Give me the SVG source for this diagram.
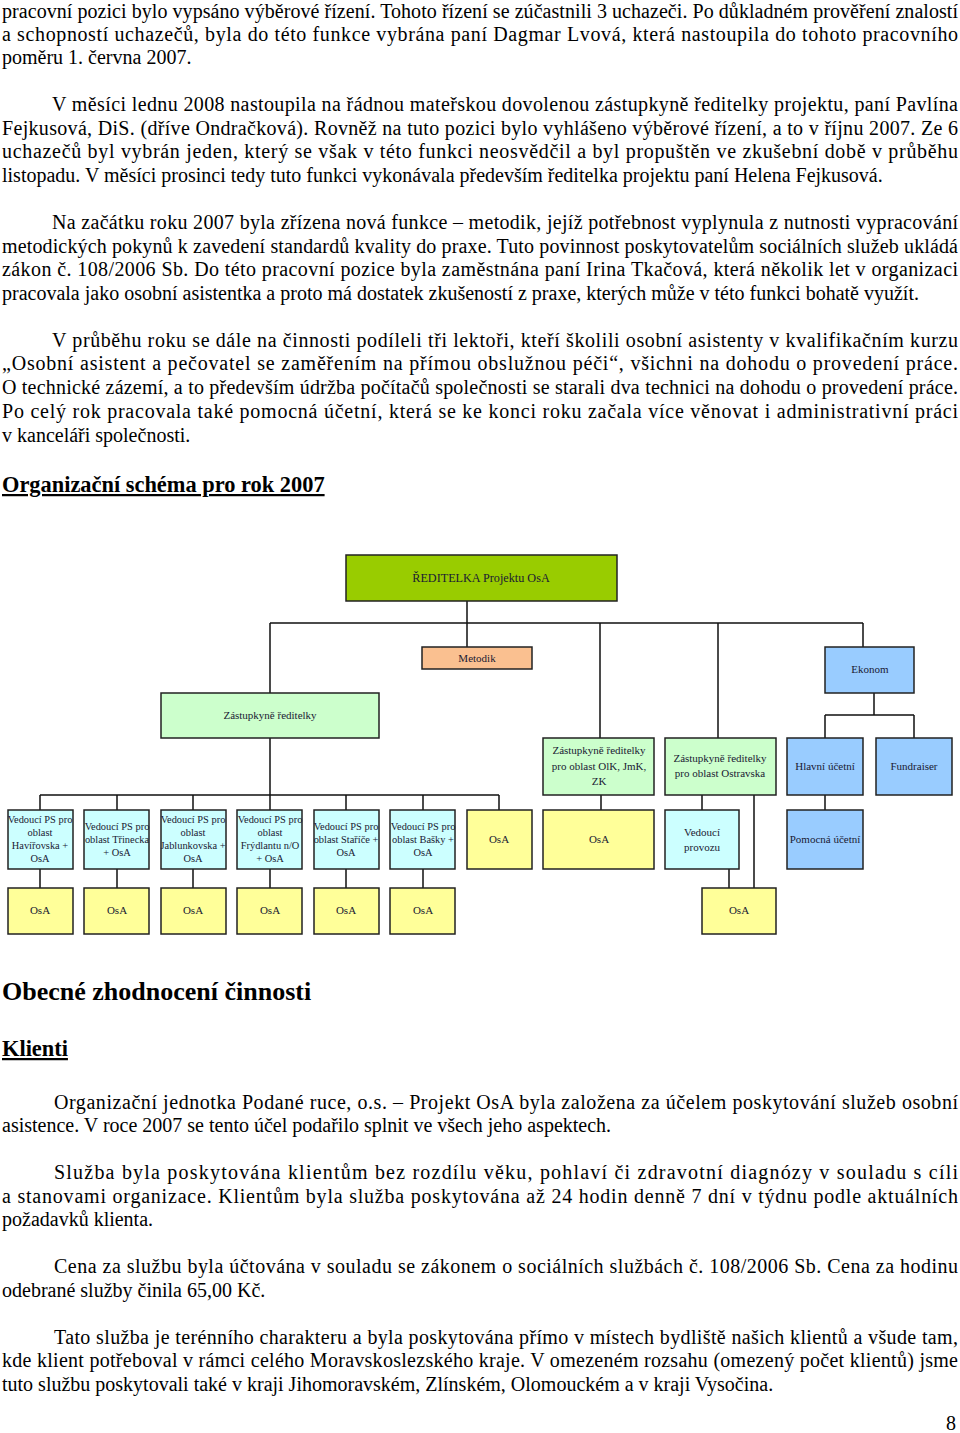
<svg xmlns="http://www.w3.org/2000/svg" width="960" height="1433" viewBox="0 0 960 1433">
<style>
.t{font-family:"Liberation Serif","Times New Roman",serif;font-size:20px;fill:#000}
.h{font-family:"Liberation Serif","Times New Roman",serif;font-weight:bold;font-size:22.4px;text-decoration:underline}
.c{font-family:"Liberation Serif","Times New Roman",serif;font-size:11px;fill:#1a1a33;text-anchor:middle}
.s{font-size:10.4px}
.b{stroke:#222;stroke-width:1.5}
.l{stroke:#111;stroke-width:1.5;fill:none}
.g1{fill:#99cc00}.or{fill:#fac090}.gr{fill:#ccffcc}.cy{fill:#ccffff}.ye{fill:#ffff99}.bl{fill:#99ccff}
</style>
<rect width="960" height="1433" fill="#fff"/>
<g class="t">
<text x="2" y="18" textLength="956" lengthAdjust="spacing">pracovní pozici bylo vypsáno výběrové řízení. Tohoto řízení se zúčastnili 3 uchazeči. Po důkladném prověření znalostí</text>
<text x="2" y="41" textLength="956" lengthAdjust="spacing">a schopností uchazečů, byla do této funkce vybrána paní Dagmar Lvová, která  nastoupila do tohoto pracovního</text>
<text x="2" y="64">poměru 1. června 2007.</text>
<text x="52" y="111" textLength="906" lengthAdjust="spacing">V měsíci lednu 2008 nastoupila na řádnou mateřskou dovolenou zástupkyně ředitelky projektu, paní Pavlína</text>
<text x="2" y="135" textLength="956" lengthAdjust="spacing">Fejkusová, DiS. (dříve Ondračková). Rovněž na tuto pozici bylo vyhlášeno výběrové řízení, a to v říjnu 2007. Ze 6</text>
<text x="2" y="158" textLength="956" lengthAdjust="spacing">uchazečů byl vybrán jeden, který se však v této funkci neosvědčil a byl propuštěn ve zkušební době v průběhu</text>
<text x="2" y="182">listopadu. V měsíci prosinci tedy tuto funkci vykonávala především ředitelka projektu paní Helena Fejkusová.</text>
<text x="52" y="229" textLength="906" lengthAdjust="spacing">Na začátku roku 2007 byla zřízena nová funkce – metodik, jejíž potřebnost vyplynula z nutnosti vypracování</text>
<text x="2" y="253" textLength="956" lengthAdjust="spacing">metodických pokynů k zavedení standardů kvality do praxe. Tuto povinnost poskytovatelům sociálních služeb ukládá</text>
<text x="2" y="276" textLength="956" lengthAdjust="spacing">zákon č. 108/2006 Sb. Do této pracovní pozice byla zaměstnána paní Irina Tkačová, která několik let v organizaci</text>
<text x="2" y="300">pracovala jako osobní asistentka a proto má dostatek zkušeností z praxe, kterých může v této funkci bohatě využít.</text>
<text x="52" y="347" textLength="906" lengthAdjust="spacing">V průběhu roku se dále na činnosti podíleli tři lektoři, kteří školili osobní asistenty v kvalifikačním kurzu</text>
<text x="2" y="370" textLength="956" lengthAdjust="spacing">„Osobní asistent a pečovatel se zaměřením na přímou obslužnou péči“, všichni na dohodu o provedení práce.</text>
<text x="2" y="394" textLength="956" lengthAdjust="spacing">O technické zázemí, a to především údržba počítačů společnosti se starali dva technici na dohodu o provedení práce.</text>
<text x="2" y="418" textLength="956" lengthAdjust="spacing">Po celý rok pracovala také pomocná účetní, která se ke konci roku začala více věnovat i administrativní práci</text>
<text x="2" y="442">v kanceláři společnosti.</text>
<text x="54" y="1109" textLength="904" lengthAdjust="spacing">Organizační jednotka Podané ruce, o.s. – Projekt OsA byla založena za účelem poskytování služeb osobní</text>
<text x="2" y="1132">asistence. V roce 2007 se tento účel podařilo splnit ve všech jeho aspektech.</text>
<text x="54" y="1179" textLength="904" lengthAdjust="spacing">Služba byla poskytována klientům bez rozdílu věku, pohlaví či zdravotní diagnózy v souladu s cíli</text>
<text x="2" y="1203" textLength="956" lengthAdjust="spacing">a stanovami organizace. Klientům byla služba poskytována až 24 hodin denně 7 dní v týdnu podle aktuálních</text>
<text x="2" y="1226">požadavků klienta.</text>
<text x="54" y="1273" textLength="904" lengthAdjust="spacing">Cena za službu byla účtována v souladu se zákonem o sociálních službách č. 108/2006 Sb. Cena za hodinu</text>
<text x="2" y="1297">odebrané služby činila 65,00 Kč.</text>
<text x="54" y="1344" textLength="904" lengthAdjust="spacing">Tato služba je terénního charakteru a byla poskytována  přímo v místech bydliště našich klientů a všude tam,</text>
<text x="2" y="1367" textLength="956" lengthAdjust="spacing">kde klient potřeboval v rámci celého Moravskoslezského kraje. V omezeném rozsahu (omezený počet klientů) jsme</text>
<text x="2" y="1391">tuto službu poskytovali také v kraji Jihomoravském, Zlínském, Olomouckém a v kraji Vysočina.</text>
<text x="946" y="1430">8</text>
</g>
<text class="h" x="2" y="492">Organizační schéma pro rok 2007</text>
<text x="2" y="1000" style="font-family:'Liberation Serif',serif;font-weight:bold;font-size:26px">Obecné zhodnocení činnosti</text>
<text class="h" x="2" y="1056">Klienti</text>

<g id="connectors" class="l">
<path d="M467 601V647M270 623H863M270 623V693M600 623V738M718 623V738M863 623V647"/>
<path d="M270 738V795M40 795H499M40 795V810M117 795V810M193 795V810M270 795V810M346 795V810M423 795V810M499 795V810"/>
<path d="M40 869V888M117 869V888M193 869V888M270 869V888M346 869V888M423 869V888"/>
<path d="M601 795V810M702 795V810M729 869V888M754 795V888"/>
<path d="M874 693V715M825 715H914M825 715V738M914 715V738M825 795V810"/>
</g>

<g id="n-dir"><rect class="b g1" x="346" y="555" width="271" height="46"/><text class="c" x="481" y="582" style="font-size:12.2px">ŘEDITELKA Projektu OsA</text></g>
<g id="n-met"><rect class="b or" x="422" y="647" width="110" height="22"/><text class="c" x="477" y="662">Metodik</text></g>
<g id="n-eko"><rect class="b bl" x="825" y="647" width="89" height="46"/><text class="c" x="870" y="673">Ekonom</text></g>
<g id="n-zast"><rect class="b gr" x="161" y="693" width="218" height="45"/><text class="c" x="270" y="719">Zástupkyně ředitelky</text></g>
<g id="n-olk"><rect class="b gr" x="543" y="738" width="111" height="57"/><text class="c" x="599" y="754">Zástupkyně ředitelky</text><text class="c" x="599" y="770">pro oblast OlK, JmK,</text><text class="c" x="599" y="785">ZK</text></g>
<g id="n-ost"><rect class="b gr" x="665" y="738" width="111" height="57"/><text class="c" x="720" y="762">Zástupkyně ředitelky</text><text class="c" x="720" y="777">pro oblast Ostravska</text></g>
<g id="n-hu"><rect class="b bl" x="787" y="738" width="76" height="57"/><text class="c" x="825" y="770">Hlavní účetní</text></g>
<g id="n-fr"><rect class="b bl" x="876" y="738" width="76" height="57"/><text class="c" x="914" y="770">Fundraiser</text></g>

<g id="n-v1"><rect class="b cy" x="8" y="810" width="65" height="59"/><text class="c s" x="40" y="823">Vedoucí PS pro</text><text class="c s" x="40" y="836">oblast</text><text class="c s" x="40" y="849">Havířovska +</text><text class="c s" x="40" y="862">OsA</text></g>
<g id="n-v2"><rect class="b cy" x="84" y="810" width="65" height="59"/><text class="c s" x="117" y="830">Vedoucí PS pro</text><text class="c s" x="117" y="843">oblast Třinecka</text><text class="c s" x="117" y="856">+ OsA</text></g>
<g id="n-v3"><rect class="b cy" x="161" y="810" width="65" height="59"/><text class="c s" x="193" y="823">Vedoucí PS pro</text><text class="c s" x="193" y="836">oblast</text><text class="c s" x="193" y="849">Jablunkovska +</text><text class="c s" x="193" y="862">OsA</text></g>
<g id="n-v4"><rect class="b cy" x="237" y="810" width="65" height="59"/><text class="c s" x="270" y="823">Vedoucí PS pro</text><text class="c s" x="270" y="836">oblast</text><text class="c s" x="270" y="849">Frýdlantu n/O</text><text class="c s" x="270" y="862">+ OsA</text></g>
<g id="n-v5"><rect class="b cy" x="314" y="810" width="65" height="59"/><text class="c s" x="346" y="830">Vedoucí PS pro</text><text class="c s" x="346" y="843">oblast Staříče +</text><text class="c s" x="346" y="856">OsA</text></g>
<g id="n-v6"><rect class="b cy" x="390" y="810" width="65" height="59"/><text class="c s" x="423" y="830">Vedoucí PS pro</text><text class="c s" x="423" y="843">oblast Bašky +</text><text class="c s" x="423" y="856">OsA</text></g>
<g id="n-o7"><rect class="b ye" x="467" y="810" width="65" height="59"/><text class="c" x="499" y="843">OsA</text></g>
<g id="n-o8"><rect class="b ye" x="543" y="810" width="111" height="59"/><text class="c" x="599" y="843">OsA</text></g>
<g id="n-vp"><rect class="b cy" x="665" y="810" width="74" height="59"/><text class="c" x="702" y="836">Vedoucí</text><text class="c" x="702" y="851">provozu</text></g>
<g id="n-pu"><rect class="b bl" x="787" y="810" width="76" height="59"/><text class="c" x="825" y="843">Pomocná účetní</text></g>

<g id="n-o1"><rect class="b ye" x="8" y="888" width="65" height="46"/><text class="c" x="40" y="914">OsA</text></g>
<g id="n-o2"><rect class="b ye" x="84" y="888" width="65" height="46"/><text class="c" x="117" y="914">OsA</text></g>
<g id="n-o3"><rect class="b ye" x="161" y="888" width="65" height="46"/><text class="c" x="193" y="914">OsA</text></g>
<g id="n-o4"><rect class="b ye" x="237" y="888" width="65" height="46"/><text class="c" x="270" y="914">OsA</text></g>
<g id="n-o5"><rect class="b ye" x="314" y="888" width="65" height="46"/><text class="c" x="346" y="914">OsA</text></g>
<g id="n-o6"><rect class="b ye" x="390" y="888" width="65" height="46"/><text class="c" x="423" y="914">OsA</text></g>
<g id="n-o9"><rect class="b ye" x="702" y="888" width="74" height="46"/><text class="c" x="739" y="914">OsA</text></g>
</svg>
